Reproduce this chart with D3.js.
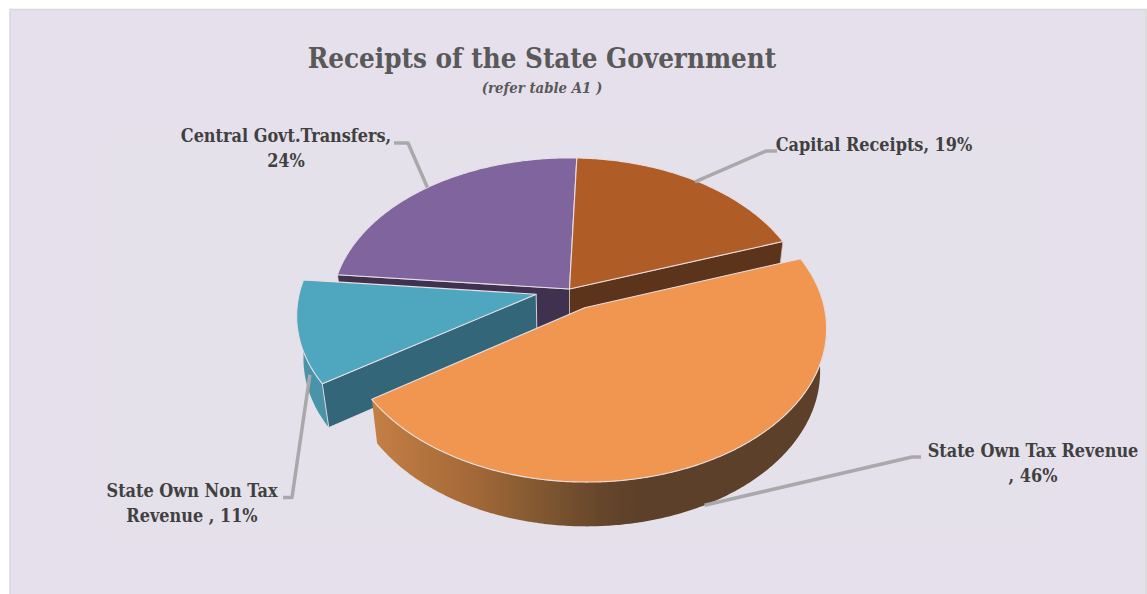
<!DOCTYPE html>
<html>
<head>
<meta charset="utf-8">
<script src="https://cdnjs.cloudflare.com/ajax/libs/d3/7.8.5/d3.min.js"></script>
<style>
html,body{margin:0;padding:0;background:#fff}
svg{display:block}
text{font-family:"DejaVu Serif Condensed","DejaVu Serif",serif;font-stretch:condensed}
</style>
</head>
<body>
<svg id="chart" width="1147" height="594"></svg>
<script>
// ---- data ----
const categories = ["Capital Receipts", "State Own Tax Revenue", "State Own Non Tax Revenue", "Central Govt.Transfers"];
const values = [19, 46, 11, 24];
const exploded = [0, 0.14, 0.145, 0];
const topColors = ["#b05c26", "#f09650", "#4fa6bf", "#7f649e"];
const radialColors = ["#5c341c", "#5c3f28", "#34667a", "#40314f"];
const wallColors = ["#5c341c", "#5c3f28", "#4a93a9", "#40314f"];
const titleText = "Receipts of the State Government";
const subtitleText = "(refer table A1 )";
const labelLines = [
  ["Capital Receipts, 19%"],
  ["State Own Tax Revenue", ", 46%"],
  ["State Own Non Tax", "Revenue , 11%"],
  ["Central Govt.Transfers,", "24%"]
];

// ---- layout ----
const W = 1147, H = 594;
const CX = 569.5, CY = 289, RX = 236, RY = 147.5, DEPTH = 44, PERSP = 0.125, ZP = 0.025;
const labelPos = [
  {x: 874, y: 151},
  {x: 1033, y: 457},
  {x: 192, y: 497},
  {x: 286, y: 142}
];
const leaders = [
  {elbow: [[777, 151], [766, 151]], f: 0.99, wall: false},
  {elbow: [[921, 457], [912, 457]], f: 1, wall: true, t: 1, frac: 0.5},
  {elbow: [[283, 497.5], [292, 497.5]], f: 1, wall: true, t: 0.3, frac: 0.22},
  {elbow: [[394, 143], [408, 143]], f: 1, wall: false}
];

const svg = d3.select("#chart");
const defs = svg.append("defs");

// background
svg.append("rect").attr("x", 10).attr("y", 9.5).attr("width", 1136).attr("height", 590)
  .attr("fill", "#e6e0ec").attr("stroke", "#d9d9d9").attr("stroke-width", 1.6);
svg.append("rect").attr("x", 106).attr("y", 137).attr("width", 930).attr("height", 398).attr("fill", "#e4e1ea");

// pie angles
const pieGen = d3.pie().sort(null).value(d => d).startAngle(2 * Math.PI / 180).endAngle(362 * Math.PI / 180);
const arcs = pieGen(values);

// perspective projection of plane coords (x right, y toward viewer, z=0 top, z=1 bottom)
function project(x, y, z) {
  const w = 1 - PERSP * y + ZP * z;
  return [CX + RX * x / w, CY + (RY * y + DEPTH * z) / w];
}
function offset(i) {
  const a = arcs[i], m = (a.startAngle + a.endAngle) / 2;
  return [exploded[i] * Math.sin(m), -exploded[i] * Math.cos(m)];
}
function pt(i, ang, r, z) {
  const o = offset(i);
  return project(o[0] + r * Math.sin(ang), o[1] - r * Math.cos(ang), z);
}
function rimAngles(a0, a1) {
  const n = Math.max(2, Math.ceil((a1 - a0) / 0.01));
  return d3.range(n + 1).map(k => a0 + (a1 - a0) * k / n);
}
const line = d3.line().curve(d3.curveLinear);

function topPath(i) {
  const a = arcs[i];
  return line([pt(i, a.startAngle, 0, 0), ...rimAngles(a.startAngle, a.endAngle).map(t => pt(i, t, 1, 0))]) + "Z";
}
function radialPath(i, ang) {
  return line([pt(i, ang, 0, 0), pt(i, ang, 1, 0), pt(i, ang, 1, 1), pt(i, ang, 0, 1)]) + "Z";
}
function wallPath(i, a0, a1) {
  const r = rimAngles(a0, a1);
  return line([...r.map(t => pt(i, t, 1, 0)), ...r.slice().reverse().map(t => pt(i, t, 1, 1))]) + "Z";
}

// gradient for the big slice's outer wall
const grad = defs.append("linearGradient").attr("id", "wallGrad").attr("gradientUnits", "userSpaceOnUse")
  .attr("x1", 372).attr("x2", 640).attr("y1", 0).attr("y2", 0);
[[0, "#c47f44"], [0.35, "#a66a39"], [0.6, "#855a32"], [0.85, "#66462b"], [1, "#5c4029"]].forEach(s =>
  grad.append("stop").attr("offset", s[0]).attr("stop-color", s[1]));

const edge = "#e6dfe4";
const pieG = svg.append("g");

function drawSlice(i, parts) {
  const g = pieG.append("g");
  parts(g);
  g.append("path").attr("d", topPath(i)).attr("fill", topColors[i])
    .attr("stroke", edge).attr("stroke-width", 1.1).attr("stroke-linejoin", "round");
}

// back to front: Central, Capital, Non Tax, Tax
drawSlice(3, g => {
  g.append("path").attr("d", radialPath(3, arcs[3].startAngle)).attr("fill", radialColors[3])
    .attr("stroke", edge).attr("stroke-width", 0.8);
});
drawSlice(0, g => {
  g.append("path").attr("d", radialPath(0, arcs[0].endAngle)).attr("fill", radialColors[0])
    .attr("stroke", "#cdbfb5").attr("stroke-width", 0.8);
});
drawSlice(2, g => {
  g.append("path").attr("d", wallPath(2, arcs[2].startAngle, arcs[2].startAngle + 0.48)).attr("fill", wallColors[2]);
  g.append("path").attr("d", radialPath(2, arcs[2].startAngle)).attr("fill", radialColors[2])
    .attr("stroke", edge).attr("stroke-width", 0.9);
});
drawSlice(1, g => {
  g.append("path").attr("d", wallPath(1, Math.PI * 0.42, arcs[1].endAngle)).attr("fill", "url(#wallGrad)");
});

// leader lines
leaders.forEach((l, i) => {
  const a = arcs[i], m = (a.startAngle + a.endAngle) / 2;
  const anchor = l.wall
    ? pt(i, a.startAngle + (a.endAngle - a.startAngle) * l.frac, 1, l.t)
    : pt(i, m, l.f, 0);
  svg.append("path").attr("d", line([l.elbow[0], l.elbow[1], anchor]))
    .attr("fill", "none").attr("stroke", "#a9a9ab").attr("stroke-width", 3.5).attr("stroke-linejoin", "round");
});

// title
svg.append("text").attr("x", 542).attr("y", 68).attr("text-anchor", "middle")
  .attr("font-size", 27.5).attr("font-weight", 700).attr("fill", "#595959").text(titleText);
svg.append("text").attr("x", 542).attr("y", 93).attr("text-anchor", "middle")
  .attr("font-size", 14.8).attr("font-weight", 700).attr("font-style", "italic").attr("fill", "#595959").text(subtitleText);

// data labels
labelLines.forEach((lines, i) => {
  lines.forEach((s, k) => {
    svg.append("text").attr("x", labelPos[i].x).attr("y", labelPos[i].y + k * 25)
      .attr("text-anchor", "middle").attr("font-size", 17.9).attr("font-weight", 700)
      .attr("fill", "#404040").text(s);
  });
});
</script>
</body>
</html>
